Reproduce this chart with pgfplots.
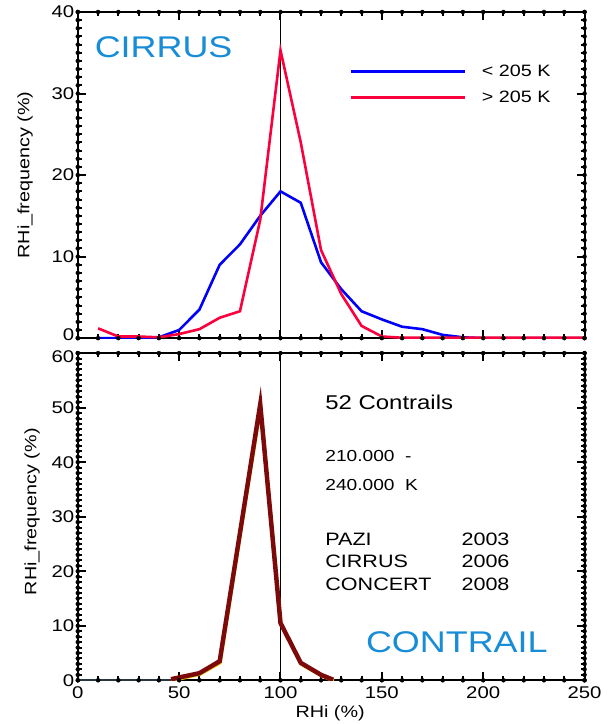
\documentclass[border=0pt]{standalone}
\usepackage{fontspec}
\setmainfont{Liberation Sans}[FakeStretch=1.2]
\usepackage{pgfplots}
\pgfplotsset{compat=1.18}
\definecolor{cblue}{RGB}{0,0,250}
\definecolor{cred}{RGB}{250,0,60}
\definecolor{clabel}{RGB}{25,140,215}
\definecolor{cmaroon}{RGB}{125,10,10}
\definecolor{cyel}{RGB}{235,200,0}
\definecolor{cslate}{RGB}{40,55,60}
\pgfplotsset{
  myax/.style={
    scale only axis, width=508pt,
    xmin=0, xmax=250, xtick={0,50,...,250},
    tick style={draw=none},
    axis line style={line width=2pt},
    tick label style={font=\fontsize{17}{19}\selectfont},
    label style={font=\fontsize{16.5}{18}\selectfont},
    /pgf/number format/assume math mode=true,
  },
}
% minor tick marks as error bars: #1 = position, #2 = plus/minus, #3 = length in data units
\newcommand{\xminor}[3]{\addplot[forget plot, only marks, mark=none,
  error bars/.cd, y dir=#2, y fixed=#3, error mark=none, error bar style={black, line width=2pt}]
  coordinates {(0,#1)(10,#1)(20,#1)(30,#1)(40,#1)(50,#1)(60,#1)(70,#1)(80,#1)(90,#1)(100,#1)(110,#1)(120,#1)(130,#1)(140,#1)(150,#1)(160,#1)(170,#1)(180,#1)(190,#1)(200,#1)(210,#1)(220,#1)(230,#1)(240,#1)(250,#1)};}
\newcommand{\yminorA}[3]{\addplot[forget plot, only marks, mark=none,
  error bars/.cd, x dir=#2, x fixed=#3, error mark=none, error bar style={black, line width=2pt}]
  coordinates {(#1,0)(#1,1)(#1,2)(#1,3)(#1,4)(#1,5)(#1,6)(#1,7)(#1,8)(#1,9)(#1,10)(#1,11)(#1,12)(#1,13)(#1,14)(#1,15)(#1,16)(#1,17)(#1,18)(#1,19)(#1,20)(#1,21)(#1,22)(#1,23)(#1,24)(#1,25)(#1,26)(#1,27)(#1,28)(#1,29)(#1,30)(#1,31)(#1,32)(#1,33)(#1,34)(#1,35)(#1,36)(#1,37)(#1,38)(#1,39)(#1,40)};}
\newcommand{\yminorB}[3]{\addplot[forget plot, only marks, mark=none,
  error bars/.cd, x dir=#2, x fixed=#3, error mark=none, error bar style={black, line width=2pt}]
  coordinates {(#1,0)(#1,1)(#1,2)(#1,3)(#1,4)(#1,5)(#1,6)(#1,7)(#1,8)(#1,9)(#1,10)(#1,11)(#1,12)(#1,13)(#1,14)(#1,15)(#1,16)(#1,17)(#1,18)(#1,19)(#1,20)(#1,21)(#1,22)(#1,23)(#1,24)(#1,25)(#1,26)(#1,27)(#1,28)(#1,29)(#1,30)(#1,31)(#1,32)(#1,33)(#1,34)(#1,35)(#1,36)(#1,37)(#1,38)(#1,39)(#1,40)(#1,41)(#1,42)(#1,43)(#1,44)(#1,45)(#1,46)(#1,47)(#1,48)(#1,49)(#1,50)(#1,51)(#1,52)(#1,53)(#1,54)(#1,55)(#1,56)(#1,57)(#1,58)(#1,59)(#1,60)};}
\begin{document}
\begin{tikzpicture}
\path (0pt,0pt) rectangle (611pt,724pt);
% ---------- top panel ----------
\begin{axis}[myax,
  at={(78pt,385pt)}, anchor=south west, height=327pt,
  ymin=0, ymax=40, ytick={10,20,30,40},
  extra y ticks={0},
  extra y tick style={yticklabel style={yshift=3.5pt}, tick style={draw=none}},
  xticklabels={},
  ylabel={RHi\_frequency (\%)},
  ylabel style={at={(axis description cs:-0.104,0.5)}, anchor=center},
  legend style={draw=none, fill=none, at={(axis description cs:0.53,0.85)}, anchor=north west,
    font=\fontsize{16.5}{18}\selectfont, row sep=9pt,
    /tikz/every odd column/.append style={column sep=14pt}},
  legend cell align=left,
  legend image code/.code={\draw[#1, line width=2.6pt] (0pt,0pt) -- (114pt,0pt);},
]
\xminor{0}{plus}{0.49}
\xminor{40}{minus}{0.49}
\yminorA{0}{plus}{1.97}
\yminorA{250}{minus}{1.97}
\addplot[forget plot, black, line width=2pt, unbounded coords=jump] coordinates {
(0,0)(0,0.98)(0,nan)(50,0)(50,0.98)(50,nan)(100,0)(100,0.98)(100,nan)(150,0)(150,0.98)(150,nan)(200,0)(200,0.98)(200,nan)(250,0)(250,0.98)(250,nan)
(0,40)(0,39.02)(0,nan)(50,40)(50,39.02)(50,nan)(100,40)(100,39.02)(100,nan)(150,40)(150,39.02)(150,nan)(200,40)(200,39.02)(200,nan)(250,40)(250,39.02)(250,nan)
(0,0)(3.94,0)(nan,0)(0,10)(3.94,10)(nan,10)(0,20)(3.94,20)(nan,20)(0,30)(3.94,30)(nan,30)(0,40)(3.94,40)(nan,40)
(250,0)(246.06,0)(nan,0)(250,10)(246.06,10)(nan,10)(250,20)(246.06,20)(nan,20)(250,30)(246.06,30)(nan,30)(250,40)(246.06,40)};
\addplot[black, line width=0.8pt, forget plot] coordinates {(100,0) (100,40)};
\addplot[cblue, line width=2.6pt] coordinates {
(10,0)(20,0)(30,0)(40,0.1)(50,1.0)(60,3.5)(70,9.0)(80,11.5)(90,15.0)(100,18.0)(110,16.6)(120,9.3)(130,6.0)(140,3.3)(150,2.3)(160,1.4)(170,1.1)(180,0.4)(190,0.1)(200,0)(210,0)(220,0)(230,0)(240,0)(250,0)};
\addlegendentry{< 205 K}
\addplot[cred, line width=2.6pt] coordinates {
(10,1.2)(20,0.2)(30,0.2)(40,0.1)(50,0.5)(60,1.1)(70,2.5)(80,3.3)(90,14.5)(100,35.3)(110,24.0)(120,10.8)(130,5.4)(140,1.5)(150,0.2)(160,0.05)(170,0.05)(180,0.05)(190,0.05)(200,0.05)(210,0.05)(220,0.05)(230,0.05)(240,0.05)(250,0.05)};
\addlegendentry{> 205 K}
\end{axis}
% ---------- bottom panel ----------
\begin{axis}[myax,
  xticklabel style={yshift=-3pt},
  at={(78pt,42pt)}, anchor=south west, height=328pt,
  ymin=0, ymax=60, ytick={0,10,...,50},
  extra y ticks={60},
  extra y tick style={yticklabel style={yshift=-3.5pt}, tick style={draw=none}},
  ylabel={RHi\_frequency (\%)},
  ylabel style={at={(axis description cs:-0.09,0.515)}, anchor=center},
  xlabel={RHi (\%)},
  xlabel style={at={(axis description cs:0.498,-0.1)}, anchor=center},
]
\xminor{0}{plus}{0.73}
\xminor{60}{minus}{0.73}
\yminorB{0}{plus}{1.97}
\yminorB{250}{minus}{1.97}
\addplot[forget plot, black, line width=2pt, unbounded coords=jump] coordinates {
(0,0)(0,1.46)(0,nan)(50,0)(50,1.46)(50,nan)(100,0)(100,1.46)(100,nan)(150,0)(150,1.46)(150,nan)(200,0)(200,1.46)(200,nan)(250,0)(250,1.46)(250,nan)
(0,60)(0,58.54)(0,nan)(50,60)(50,58.54)(50,nan)(100,60)(100,58.54)(100,nan)(150,60)(150,58.54)(150,nan)(200,60)(200,58.54)(200,nan)(250,60)(250,58.54)(250,nan)
(0,0)(3.94,0)(nan,0)(0,10)(3.94,10)(nan,10)(0,20)(3.94,20)(nan,20)(0,30)(3.94,30)(nan,30)(0,40)(3.94,40)(nan,40)(0,50)(3.94,50)(nan,50)(0,60)(3.94,60)(nan,60)
(250,0)(246.06,0)(nan,0)(250,10)(246.06,10)(nan,10)(250,20)(246.06,20)(nan,20)(250,30)(246.06,30)(nan,30)(250,40)(246.06,40)(nan,40)(250,50)(246.06,50)(nan,50)(250,60)(246.06,60)};
\addplot[black, line width=0.8pt, forget plot] coordinates {(100,0) (100,60)};
\addplot[cyel, line width=3pt, xshift=0.6pt, yshift=-0.6pt] coordinates {
(30,0)(46,0)(60,1.2)(70,3.3)(80,27)(90,50.2)(100,10.4)(110,3.0)(120,0.9)(126,0)};
\addplot[cslate, line width=2.5pt] coordinates {(0,0)(46,0)};
\addplot[cmaroon, line width=4.5pt] coordinates {
(46,0.2)(60,1.3)(70,3.5)(80,27)(90,50.6)(100,10.5)(110,3.2)(120,1.0)(126,0.1)};
\end{axis}
% ---------- texts ----------
\node[text=clabel, font=\fontsize{30}{32}\selectfont, anchor=center] at (164pt,677pt) {CIRRUS};
\node[text=clabel, font=\fontsize{30}{32}\selectfont, anchor=center] at (458pt,80pt) {CONTRAIL};
\begin{scope}[every node/.style={anchor=west, inner sep=0pt}]
\node[font=\fontsize{20}{22}\selectfont] at (326pt,321pt) {52 Contrails};
\node[font=\fontsize{16}{18}\selectfont] at (326pt,267pt) {210.000\ \ -};
\node[font=\fontsize{16}{18}\selectfont] at (326pt,238pt) {240.000\ \ K};
\node[font=\fontsize{18}{20}\selectfont] at (326pt,183pt) {PAZI};
\node[font=\fontsize{18}{20}\selectfont] at (326pt,161pt) {CIRRUS};
\node[font=\fontsize{18}{20}\selectfont] at (326pt,138pt) {CONCERT};
\node[font=\fontsize{18}{20}\selectfont] at (462.5pt,183pt) {2003};
\node[font=\fontsize{18}{20}\selectfont] at (462.5pt,161pt) {2006};
\node[font=\fontsize{18}{20}\selectfont] at (462.5pt,138pt) {2008};
\end{scope}
\end{tikzpicture}
\end{document}
